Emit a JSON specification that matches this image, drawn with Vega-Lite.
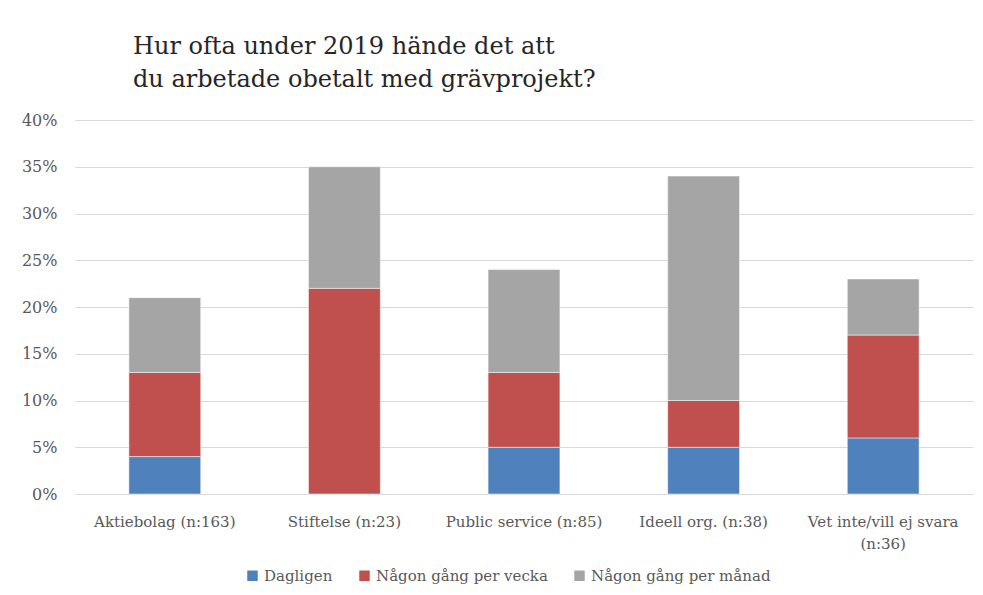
{
  "$schema": "https://vega.github.io/schema/vega-lite/v6.json",
  "autosize": {"type": "none"},
  "width": 898,
  "height": 374,
  "padding": {"left": 75, "top": 120, "right": 10, "bottom": 101},
  "background": "white",
  "title": {
    "text": ["Hur ofta under 2019 hände det att", "du arbetade obetalt med grävprojekt?"],
    "anchor": "start",
    "frame": "group",
    "dx": 58,
    "offset": 20,
    "font": "DejaVu Serif",
    "fontSize": 24,
    "fontWeight": "normal",
    "color": "#262626",
    "lineHeight": 33
  },
  "data": {
    "values": [
      {"kategori": "Aktiebolag (n:163)", "serie": "Dagligen", "ordning": 1, "andel": 4},
      {"kategori": "Aktiebolag (n:163)", "serie": "Någon gång per vecka", "ordning": 2, "andel": 9},
      {"kategori": "Aktiebolag (n:163)", "serie": "Någon gång per månad", "ordning": 3, "andel": 8},
      {"kategori": "Stiftelse (n:23)", "serie": "Dagligen", "ordning": 1, "andel": 0},
      {"kategori": "Stiftelse (n:23)", "serie": "Någon gång per vecka", "ordning": 2, "andel": 22},
      {"kategori": "Stiftelse (n:23)", "serie": "Någon gång per månad", "ordning": 3, "andel": 13},
      {"kategori": "Public service (n:85)", "serie": "Dagligen", "ordning": 1, "andel": 5},
      {"kategori": "Public service (n:85)", "serie": "Någon gång per vecka", "ordning": 2, "andel": 8},
      {"kategori": "Public service (n:85)", "serie": "Någon gång per månad", "ordning": 3, "andel": 11},
      {"kategori": "Ideell org. (n:38)", "serie": "Dagligen", "ordning": 1, "andel": 5},
      {"kategori": "Ideell org. (n:38)", "serie": "Någon gång per vecka", "ordning": 2, "andel": 5},
      {"kategori": "Ideell org. (n:38)", "serie": "Någon gång per månad", "ordning": 3, "andel": 24},
      {"kategori": "Vet inte/vill ej svara (n:36)", "serie": "Dagligen", "ordning": 1, "andel": 6},
      {"kategori": "Vet inte/vill ej svara (n:36)", "serie": "Någon gång per vecka", "ordning": 2, "andel": 11},
      {"kategori": "Vet inte/vill ej svara (n:36)", "serie": "Någon gång per månad", "ordning": 3, "andel": 6}
    ]
  },
  "mark": {"type": "bar", "stroke": "white", "strokeWidth": 0.5},
  "encoding": {
    "x": {
      "field": "kategori",
      "type": "nominal",
      "sort": null,
      "scale": {"paddingInner": 0.6, "paddingOuter": 0.3},
      "axis": {
        "title": null,
        "labelAngle": 0,
        "ticks": false,
        "domain": false,
        "labelPadding": 20,
        "labelLimit": 300,
        "labelLineHeight": 22,
        "labelExpr": "datum.label == 'Vet inte/vill ej svara (n:36)' ? ['Vet inte/vill ej svara', '(n:36)'] : datum.label"
      }
    },
    "y": {
      "field": "andel",
      "type": "quantitative",
      "stack": "zero",
      "scale": {"domain": [0, 40], "nice": false},
      "axis": {
        "title": null,
        "values": [0, 5, 10, 15, 20, 25, 30, 35, 40],
        "labelExpr": "datum.value + '%'",
        "ticks": false,
        "domain": false,
        "labelPadding": 18,
        "labelFontSize": 16,
        "grid": true
      }
    },
    "color": {
      "field": "serie",
      "type": "nominal",
      "scale": {
        "domain": ["Dagligen", "Någon gång per vecka", "Någon gång per månad"],
        "range": ["#4F81BD", "#C0504D", "#A5A5A5"]
      },
      "legend": {
        "title": null,
        "orient": "none",
        "legendX": 170,
        "legendY": 448,
        "direction": "horizontal",
        "symbolType": "square",
        "symbolSize": 110,
        "symbolStrokeWidth": 0,
        "columnPadding": 24,
        "labelOffset": 4,
        "labelLimit": 300
      }
    },
    "order": {"field": "ordning", "type": "quantitative"}
  },
  "config": {
    "view": {"stroke": null},
    "axis": {
      "labelFont": "DejaVu Serif",
      "labelFontSize": 15,
      "labelColor": "#595959",
      "gridColor": "#D9D9D9",
      "gridWidth": 1
    },
    "legend": {
      "labelFont": "DejaVu Serif",
      "labelFontSize": 15,
      "labelColor": "#595959"
    }
  }
}
